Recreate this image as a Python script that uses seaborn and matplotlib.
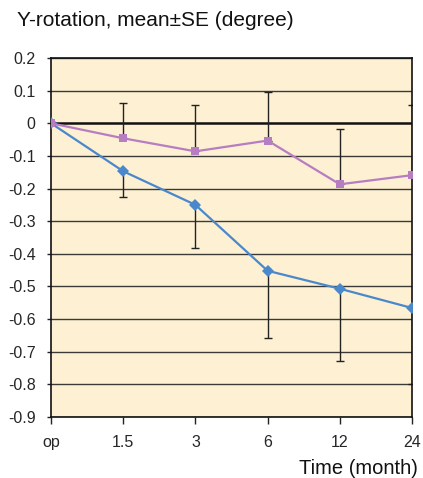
import matplotlib
matplotlib.use("Agg")
import matplotlib.pyplot as plt
import seaborn as sns
import numpy as np
import pandas as pd

# data
times = ['op', '1.5', '3', '6', '12', '24']
blue_mean = [0, -0.147, -0.25, -0.452, -0.507, -0.566]
blue_se = [0, 0.08, 0.133, 0.206, 0.221, 0.234]
purple_mean = [0, -0.046, -0.086, -0.053, -0.187, -0.159]
purple_se = [0, 0.108, 0.143, 0.15, 0.17, 0.215]
y_ticks = [0.2, 0.1, 0, -0.1, -0.2, -0.3, -0.4, -0.5, -0.6, -0.7, -0.8, -0.9]

BLUE = '#4a88cc'
PURPLE = '#b67dc2'
BG = '#fef0d3'


def main():
    sns.set_style('white', {'axes.facecolor': BG})
    plt.rcParams['font.family'] = ['Liberation Sans', 'DejaVu Sans']
    plt.rcParams['axes.unicode_minus'] = False

    pos = np.arange(len(times))
    df = pd.DataFrame({
        'pos': np.concatenate([pos, pos]),
        'value': blue_mean + purple_mean,
        'group': ['blue'] * len(times) + ['purple'] * len(times),
    })

    fig = plt.figure(figsize=(4.23, 4.78), dpi=100)
    ax = fig.add_axes([51 / 423, 61 / 478, 361 / 423, 359 / 478])

    # horizontal grid lines
    for t in y_ticks:
        if t == 0:
            ax.axhline(0, color='#111111', lw=1.8, zorder=1)
        else:
            ax.axhline(t, color='#3c3a36', lw=1.0, zorder=1)

    # one-sided error bars (blue down, purple up)
    ax.errorbar(pos, blue_mean, yerr=[blue_se, np.zeros(len(times))],
                fmt='none', ecolor='#222222', elinewidth=1.0, capsize=3,
                capthick=1.0, zorder=2)
    ax.errorbar(pos, purple_mean, yerr=[np.zeros(len(times)), purple_se],
                fmt='none', ecolor='#222222', elinewidth=1.0, capsize=3,
                capthick=1.0, zorder=2)

    sns.lineplot(data=df, x='pos', y='value', hue='group', style='group',
                 palette={'blue': BLUE, 'purple': PURPLE},
                 markers={'blue': 'D', 'purple': 's'}, dashes=False,
                 markersize=6, markeredgewidth=0, linewidth=1.6,
                 legend=False, ax=ax, zorder=3)

    ax.set_xlim(0, len(times) - 1)
    ax.set_ylim(-0.9, 0.2)
    ax.set_xticks(pos)
    ax.set_xticklabels(times)
    ax.set_yticks(y_ticks)
    ax.set_yticklabels([f'{t:g}' for t in y_ticks])
    ax.set_xlabel('')
    ax.set_ylabel('')

    for s in ax.spines.values():
        s.set_color('#111111')
        s.set_linewidth(1.2)
    ax.tick_params(axis='x', direction='out', length=5, width=1, color='#222222',
                   labelsize=11.5, pad=8, bottom=True)
    ax.tick_params(axis='y', direction='out', length=3, width=1, color='#222222',
                   labelsize=11.5, pad=8, left=True)

    fig.text(17 / 423, 1 - 20 / 478, 'Y-rotation, mean\u00b1SE (degree)',
             fontsize=15, ha='left', va='center', color='#111111')
    fig.text(418 / 423, 1 - 468 / 478, 'Time (month)', fontsize=14.5,
             ha='right', va='center', color='#111111')

    fig.savefig('out.png', dpi=100)
    plt.close(fig)


if __name__ == '__main__':
    main()
